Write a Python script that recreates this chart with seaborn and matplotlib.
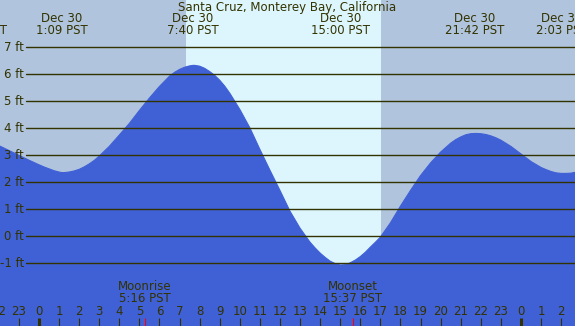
import matplotlib
matplotlib.use("Agg")
import matplotlib.pyplot as plt
import matplotlib.transforms as mtransforms
import seaborn as sns
import pandas as pd

# tide heights (ft), hours from midnight Dec 30 PST
hours = [-1.94, -1.5, -1.0, -0.5, 0.0, 0.25, 0.5, 0.75, 1.0, 1.15, 1.25, 1.5,
         1.75, 2.0, 2.25, 2.5, 2.75, 3.0, 3.5, 4.0, 4.5, 5.0, 5.5, 6.0, 6.5,
         6.75, 7.0, 7.25, 7.5, 7.67, 7.75, 8.0, 8.25, 8.5, 8.75, 9.0, 9.25,
         9.5, 10.0, 10.5, 11.0, 11.5, 12.0, 12.5, 13.0, 13.5, 13.75, 14.0,
         14.25, 14.5, 14.75, 15.0, 15.25, 15.5, 15.75, 16.0, 16.25, 16.5,
         16.75, 17.0, 17.5, 18.0, 18.5, 19.0, 19.5, 20.0, 20.5, 20.75, 21.0,
         21.25, 21.5, 21.75, 22.0, 22.25, 22.5, 22.75, 23.0, 23.5, 24.0,
         24.5, 25.0, 25.25, 25.5, 25.75, 26.0, 26.25, 26.5, 26.7]
heights = [3.34, 3.18, 3.00, 2.82, 2.65, 2.57, 2.50, 2.43, 2.38, 2.36, 2.36,
           2.38, 2.42, 2.48, 2.57, 2.68, 2.81, 2.97, 3.33, 3.75, 4.18, 4.66,
           5.12, 5.55, 5.93, 6.07, 6.18, 6.26, 6.31, 6.33, 6.33, 6.30, 6.22,
           6.10, 5.96, 5.78, 5.56, 5.30, 4.70, 4.02, 3.22, 2.45, 1.70, 0.93,
           0.30, -0.22, -0.43, -0.62, -0.78, -0.92, -1.01, -1.06, -1.05,
           -0.98, -0.88, -0.75, -0.59, -0.40, -0.22, -0.03, 0.50, 1.12, 1.70,
           2.25, 2.72, 3.12, 3.45, 3.58, 3.68, 3.76, 3.80, 3.81, 3.80, 3.77,
           3.72, 3.65, 3.56, 3.33, 3.05, 2.77, 2.55, 2.47, 2.40, 2.35, 2.33,
           2.33, 2.34, 2.37]

# high / low events shown at the top
event_hours = [-3.08, 1.15, 7.67, 15.0, 21.7, 26.05]
event_dates = ["Dec 29", "Dec 30", "Dec 30", "Dec 30", "Dec 30", "Dec 31"]
event_times = ["20:55 PST", "1:09 PST", "7:40 PST", "15:00 PST", "21:42 PST", "2:03 PST"]

# moon events
moon_names = ["Moonrise", "Moonset"]
moon_hours = [5.27, 15.62]
moon_times = ["5:16 PST", "15:37 PST"]

sunrise = 7.32
sunset = 17.03

feet = [-1, 0, 1, 2, 3, 4, 5, 6, 7]
hour_ticks = list(range(-2, 27))

title = "Santa Cruz, Monterey Bay, California"

night = "#b0c4de"
day = "#ddf6fe"
water = "#4060d6"
ink = "#333300"

sns.set_style("white")
plt.rcParams["font.family"] = ["DejaVu Sans"]

df = pd.DataFrame({"hour": hours, "ft": heights})

fig = plt.figure(figsize=(5.75, 3.26), dpi=100)
ax = fig.add_axes([0, 0, 1, 1])
ax.set_facecolor(night)
ax.set_xlim(-1.94, 26.69)
ax.set_ylim(-3.32, 8.75)

ax.axvspan(sunrise, sunset, color=day, lw=0, zorder=0)
ax.fill_between(df["hour"], df["ft"], -4, color=water, lw=0, zorder=1)
sns.lineplot(data=df, x="hour", y="ft", color=water, lw=0.8, ax=ax, zorder=1)

yt = mtransforms.blended_transform_factory(ax.transAxes, ax.transData)
for f in feet:
    ax.axhline(f, xmin=26 / 575, xmax=1, color=ink, lw=1.0, zorder=2)
    ax.text(24 / 575, f, f"{f} ft", transform=yt, ha="right", va="center",
            fontsize=8.5, color=ink, zorder=3)

bt = mtransforms.blended_transform_factory(ax.transData, ax.transAxes)
for h in hour_ticks:
    ax.text(h, 0.043, str(h % 24), transform=bt, ha="center", va="center",
            fontsize=8.5, color=ink, zorder=3)
    ax.plot([h, h], [0, 0.025], transform=bt, color=ink,
            lw=2.2 if h % 24 == 0 else 0.8, solid_capstyle="butt", zorder=3)

for name, h, t in zip(moon_names, moon_hours, moon_times):
    ax.plot([h, h], [0, 0.025], transform=bt, color="red", lw=0.8,
            solid_capstyle="butt", zorder=3)
    ax.text(h, 0.12, name, transform=bt, ha="center", va="center",
            fontsize=8.5, color=ink, zorder=3)
    ax.text(h, 0.083, t, transform=bt, ha="center", va="center",
            fontsize=8.5, color=ink, zorder=3)

for h, d, t in zip(event_hours, event_dates, event_times):
    ax.text(h, 0.942, d, transform=bt, ha="center", va="center",
            fontsize=8.5, color=ink, zorder=3)
    ax.text(h, 0.905, t, transform=bt, ha="center", va="center",
            fontsize=8.5, color=ink, zorder=3)

ax.text(0.5, 0.977, title, transform=ax.transAxes, ha="center", va="center",
        fontsize=8.5, color=ink, zorder=3)

ax.set_xlabel("")
ax.set_ylabel("")
ax.set_xticks([])
ax.set_yticks([])
for s in ax.spines.values():
    s.set_visible(False)

fig.savefig("out.png", dpi=100)
